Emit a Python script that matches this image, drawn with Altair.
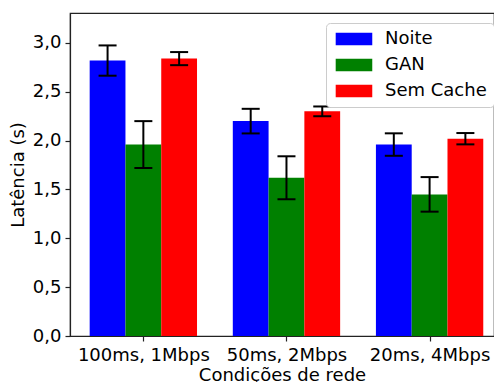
import altair as alt
import pandas as pd

categories = ["100ms, 1Mbps", "50ms, 2Mbps", "20ms, 4Mbps"]
series = ["Noite", "GAN", "Sem Cache"]
colors = ["#0000ff", "#008000", "#ff0000"]

noite = [2.82, 2.20, 1.96]
noite_err = [0.155, 0.126, 0.115]
gan = [1.96, 1.62, 1.45]
gan_err = [0.24, 0.22, 0.177]
sem_cache = [2.84, 2.30, 2.02]
sem_cache_err = [0.067, 0.05, 0.058]

y_ticks = [0.0, 0.5, 1.0, 1.5, 2.0, 2.5, 3.0]

values = [noite, gan, sem_cache]
errors = [noite_err, gan_err, sem_cache_err]
rows = []
for gi, cat in enumerate(categories):
    for si, s in enumerate(series):
        rows.append({"group": gi, "sidx": si, "series": s,
                     "value": values[si][gi], "err": errors[si][gi]})
df = pd.DataFrame(rows)

FONT = "DejaVu Sans"
bar_w = 0.25

label_list = "[" + ",".join("'" + c + "'" for c in categories) + "]"

xscale = alt.Scale(domain=[-0.5125, 2.45], nice=False, zero=False)
yscale = alt.Scale(domain=[0, 3.307], nice=False)

base = alt.Chart(df).transform_calculate(
    center=f"datum.group + (datum.sidx - 1) * {bar_w}",
    zero="0",
).transform_calculate(
    x0=f"datum.center - {bar_w / 2}",
    x1=f"datum.center + {bar_w / 2}",
    lo="datum.value - datum.err",
    hi="datum.value + datum.err",
)

bars = base.mark_bar(opacity=1, strokeWidth=0, cornerRadius=0).encode(
    x=alt.X("x0:Q", scale=xscale,
            axis=alt.Axis(values=[0, 1, 2],
                          labelExpr=label_list + "[datum.value]",
                          title="Condições de rede", grid=False)),
    x2="x1:Q",
    y=alt.Y("value:Q", scale=yscale,
            axis=alt.Axis(values=y_ticks,
                          labelExpr="replace(format(datum.value, '.1f'), '.', ',')",
                          title="Latência (s)", grid=False)),
    y2="zero:Q",
    color=alt.Color("series:N",
                    scale=alt.Scale(domain=series, range=colors),
                    sort=series,
                    legend=alt.Legend(
                        title=None, orient="none", legendX=256, legendY=10,
                        symbolType="M-1,-1L4.8,-1L4.8,1L-1,1Z",
                        symbolSize=159, symbolStrokeWidth=0, symbolOpacity=1,
                        labelFontSize=18, labelFont=FONT, labelColor="black",
                        labelOffset=34, padding=7, rowPadding=8,
                        strokeColor="#cccccc", cornerRadius=4, fillColor="white")),
)

err_rule = base.mark_rule(color="black", strokeWidth=2).encode(
    x=alt.X("center:Q", scale=xscale),
    y=alt.Y("lo:Q", scale=yscale),
    y2="hi:Q",
)

cap_hi = base.mark_tick(orient="horizontal", size=18, thickness=2,
                        color="black", opacity=1).encode(
    x=alt.X("center:Q", scale=xscale),
    y=alt.Y("hi:Q", scale=yscale),
)
cap_lo = base.mark_tick(orient="horizontal", size=18, thickness=2,
                        color="black", opacity=1).encode(
    x=alt.X("center:Q", scale=xscale),
    y=alt.Y("lo:Q", scale=yscale),
)

chart = alt.layer(bars, err_rule, cap_hi, cap_lo).properties(
    width=424, height=323,
    autosize=alt.AutoSizeParams(type="none"),
    padding={"left": 70, "top": 13, "right": 0, "bottom": 46},
).configure_view(
    stroke="#222222", strokeWidth=1.2,
).configure_axis(
    labelFont=FONT, labelFontSize=18, labelColor="black",
    titleFont=FONT, titleFontSize=18, titleColor="black",
    titleFontWeight="normal",
    domainColor="#222222", domainWidth=1.2,
    tickColor="#222222", tickWidth=1.2, tickSize=5,
    labelPadding=4,
).configure_axisY(
    titlePadding=5,
).configure_axisX(
    titlePadding=2, labelPadding=5,
)

chart.save("out.html", embed_options={"renderer": "svg", "actions": False})
